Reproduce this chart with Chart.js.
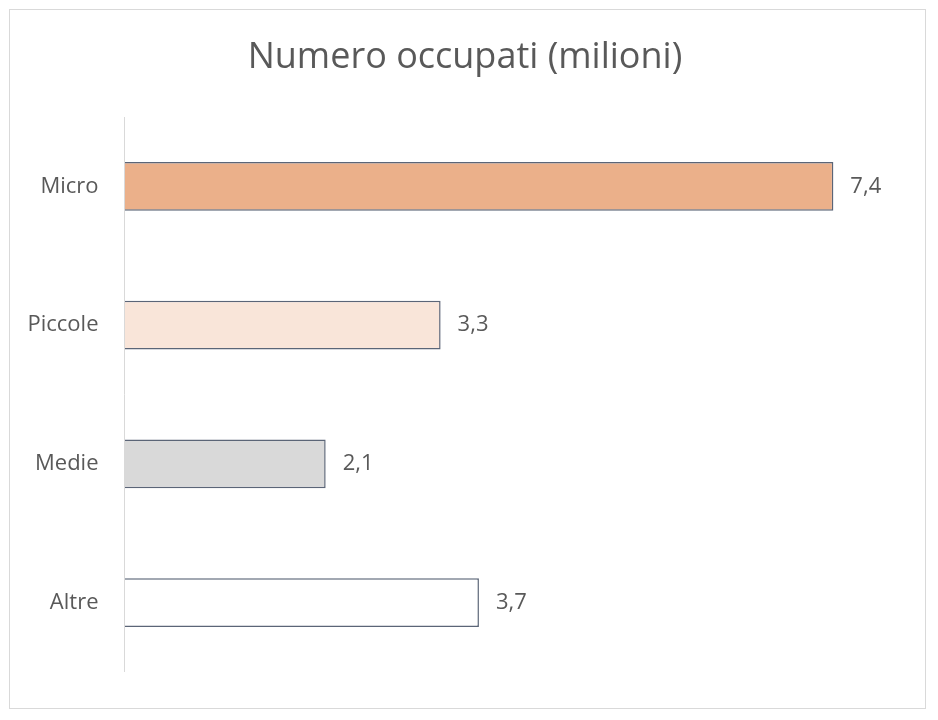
<!DOCTYPE html>
<html>
<head>
<meta charset="utf-8">
<script src="https://cdn.jsdelivr.net/npm/chart.js@4/dist/chart.umd.min.js"></script>
<style>
  html, body { margin: 0; padding: 0; background: #ffffff; }
  #wrap { width: 938px; height: 720px; position: relative; }
</style>
</head>
<body>
<div id="wrap"><canvas id="c" width="938" height="720"></canvas></div>
<script>
// Employment by company size, millions of people
const categories = ['Micro', 'Piccole', 'Medie', 'Altre'];
const occupati = [7.4, 3.3, 2.1, 3.7];
const fillColors = ['#ebb08a', '#f9e5d9', '#d9d9d9', '#ffffff'];
const chartTitle = 'Numero occupati (milioni)';

const FONT = '"Open Sans", "Liberation Sans", sans-serif';
const TEXT = '#595959';

// Light frame around the whole chart
const framePlugin = {
  id: 'frame',
  beforeDraw(chart) {
    const ctx = chart.ctx;
    ctx.save();
    ctx.fillStyle = '#ffffff';
    ctx.fillRect(0, 0, chart.width, chart.height);
    ctx.strokeStyle = '#d9d9d9';
    ctx.lineWidth = 1;
    ctx.strokeRect(9.5, 9.5, 916, 699);
    ctx.restore();
  }
};

// Vertical category axis line and value labels after each bar
const labelPlugin = {
  id: 'valueLabels',
  afterDatasetsDraw(chart) {
    const ctx = chart.ctx;
    const area = chart.chartArea;
    const x0 = chart.scales.x.getPixelForValue(0);
    ctx.save();
    ctx.strokeStyle = '#d9d9d9';
    ctx.lineWidth = 1;
    ctx.beginPath();
    ctx.moveTo(Math.round(x0) - 0.5, area.top);
    ctx.lineTo(Math.round(x0) - 0.5, area.bottom);
    ctx.stroke();

    ctx.fillStyle = TEXT;
    ctx.font = '22px ' + FONT;
    ctx.textAlign = 'left';
    ctx.textBaseline = 'middle';
    const meta = chart.getDatasetMeta(0);
    meta.data.forEach((bar, i) => {
      const v = occupati[i];
      const txt = v.toFixed(1).replace('.', ',');
      ctx.fillText(txt, bar.x + 17, bar.y);
    });
    ctx.restore();
  }
};

new Chart(document.getElementById('c'), {
  type: 'bar',
  data: {
    labels: categories,
    datasets: [{
      data: occupati,
      backgroundColor: fillColors,
      borderColor: '#5b6577',
      borderWidth: 1.5,
      borderSkipped: 'left',
      barPercentage: 0.7,
      categoryPercentage: 0.5
    }]
  },
  options: {
    indexAxis: 'y',
    responsive: false,
    animation: false,
    layout: { padding: { top: 0, bottom: 48, left: 20, right: 28 } },
    plugins: {
      legend: { display: false },
      tooltip: { enabled: false },
      title: {
        display: true,
        text: chartTitle,
        color: TEXT,
        font: { family: FONT, size: 36, weight: 'normal' },
        padding: { top: 36, bottom: 37.8 }
      }
    },
    scales: {
      x: {
        display: false,
        min: 0,
        max: 8.2
      },
      y: {
        grid: { display: false, drawTicks: false },
        border: { display: false },
        ticks: {
          color: TEXT,
          font: { family: FONT, size: 22 },
          padding: 26
        },
        afterFit(scale) { scale.width = 104.5; }
      }
    }
  },
  plugins: [framePlugin, labelPlugin]
});
</script>
</body>
</html>
